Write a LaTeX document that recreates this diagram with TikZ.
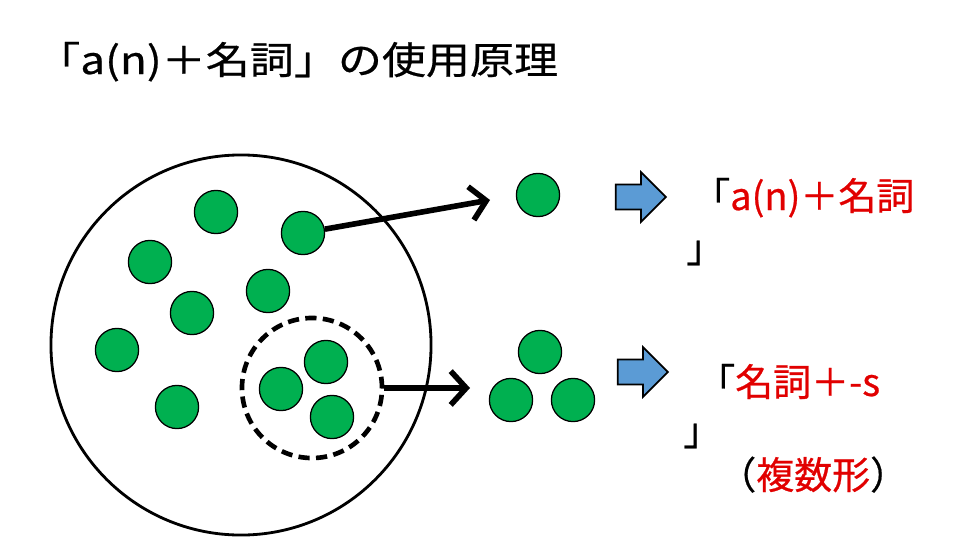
\documentclass[tikz,border=0pt]{standalone}
\usepackage{fontspec}
\setmainfont[FakeBold=0.6]{Noto Sans CJK JP}
\newfontfamily\titlefont[FakeStretch=1.16, FakeBold=0.6]{Noto Sans CJK JP}
\usepackage{xcolor}
\usepackage{tikz}
\usetikzlibrary{arrows.meta, shapes.arrows}

\definecolor{dotgreen}{RGB}{0,176,80}
\definecolor{arrowblue}{RGB}{91,155,213}
\definecolor{txtred}{RGB}{225,0,0}

\begin{document}
\begin{tikzpicture}[
    x=0.025cm, y=-0.025cm,
    font=\fontsize{27}{33}\selectfont,
    dot/.style={circle, draw=black, line width=0.9pt, fill=dotgreen,
                minimum size=1.08cm, inner sep=0pt},
    pool/.style={circle, draw=black, line width=2pt,
                 minimum size=9.5cm, inner sep=0pt},
    group/.style={circle, draw=black, line width=3.3pt, dash pattern=on 8pt off 4.5pt,
                  minimum size=3.5cm, inner sep=0pt},
    arr/.style={-{Straight Barb[length=11pt, width=24pt]}, line width=4pt},
    blockarr/.style={single arrow, draw=black, line width=1.2pt, fill=arrowblue,
                     inner xsep=0pt, inner ysep=0.29cm, minimum height=1.25cm,
                     single arrow head extend=0.31cm, anchor=tip},
    lbl/.style={anchor=base west, inner sep=0pt}
  ]
    \useasboundingbox (0,0) rectangle (960,540);

    %% ── Title
    \node[lbl, font=\titlefont\fontsize{27}{33}\selectfont] (title) at (36,74)
          {「a(n)＋名詞」の使用原理};

    %% ── Big circle: all nouns
    \node[pool] (pool) at (241,345) {};

    %% Single dots
    \node[dot] (d1)  at (216,212) {};
    \node[dot] (d2)  at (303,233) {};
    \node[dot] (d3)  at (150,262) {};
    \node[dot] (d4)  at (268,291) {};
    \node[dot] (d5)  at (192,313) {};
    \node[dot] (d6)  at (117,350) {};
    \node[dot] (d7)  at (177,407) {};

    %% Group of dots (dashed)
    \node[dot] (g1)  at (281,389) {};
    \node[dot] (g2)  at (326,362) {};
    \node[dot] (g3)  at (332,417) {};
    \node[group] (grp) at (312,388) {};

    %% ── Picked out
    \node[dot] (s1)  at (538,195) {};
    \node[dot] (m1)  at (540,352) {};
    \node[dot] (m2)  at (511,400) {};
    \node[dot] (m3)  at (573,400) {};

    %% Arrows: pool -> picked out
    \coordinate (t1) at (490,200);
    \coordinate (t2) at (470,388);
    \draw[arr] (d2) -- (t1);
    \draw[arr] (grp.east) -- (t2);

    %% ── Block arrows
    \node[blockarr] (b1) at (667,197) {};
    \node[blockarr] (b2) at (669,372) {};

    %% ── Results
    \node[lbl] (r1)  at (692,210) {「\textcolor{txtred}{a(n)＋名詞}};
    \node[lbl] (r1b) at (686,262) {」};
    \node[lbl] (r2)  at (697,396) {「\textcolor{txtred}{名詞＋-s}};
    \node[lbl] (r2b) at (683,445) {」};
    \node[lbl] (r2c) at (718,489) {（\textcolor{txtred}{複数形}）};

  \end{tikzpicture}
\end{document}
